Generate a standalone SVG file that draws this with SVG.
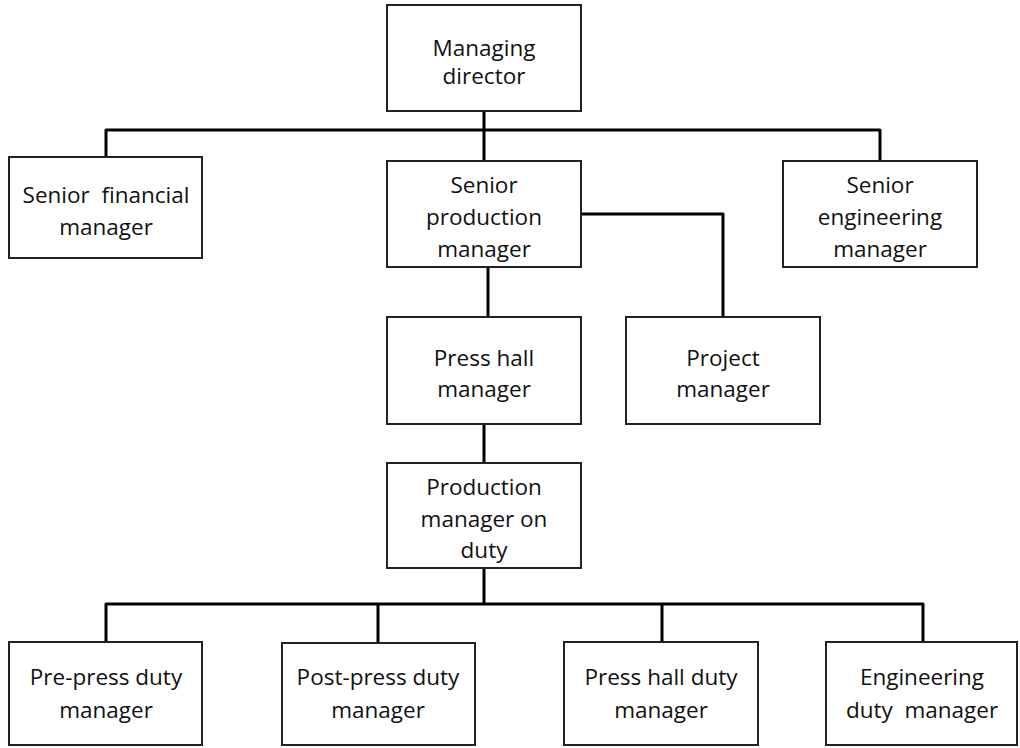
<svg xmlns="http://www.w3.org/2000/svg" width="1020" height="748" viewBox="0 0 1020 748">
<style>
.box{fill:#fff;stroke:#222;stroke-width:2}
.t{font-family:"Open Sans",Lato,sans-serif;font-size:22.5px;fill:#111;text-anchor:middle}
.c{fill:none;stroke:#000;stroke-width:3;stroke-linejoin:round}
</style>
<rect width="1020" height="748" fill="#fff"/>
<g id="connectors">
<path class="c" d="M484 111V161M106 157V130H880V161"/>
<path class="c" d="M581 214H723V317M488 267V317M484 424V463"/>
<path class="c" d="M484 568V604M106 642V604H923V642M378 604V643M662 604V642"/>
</g>
<g id="managing-director"><rect class="box" x="387" y="5" width="194" height="106"/><text class="t" x="484" y="56">Managing</text><text class="t" x="484" y="84">director</text></g>
<g id="senior-financial"><rect class="box" x="9" y="157" width="193" height="101"/><text class="t" x="106" y="203" xml:space="preserve">Senior  financial</text><text class="t" x="106" y="235">manager</text></g>
<g id="senior-production"><rect class="box" x="387" y="161" width="194" height="106"/><text class="t" x="484" y="193">Senior</text><text class="t" x="484" y="225">production</text><text class="t" x="484" y="257">manager</text></g>
<g id="senior-engineering"><rect class="box" x="783" y="161" width="194" height="106"/><text class="t" x="880" y="193">Senior</text><text class="t" x="880" y="225">engineering</text><text class="t" x="880" y="257">manager</text></g>
<g id="press-hall"><rect class="box" x="387" y="317" width="194" height="107"/><text class="t" x="484" y="366">Press hall</text><text class="t" x="484" y="397">manager</text></g>
<g id="project"><rect class="box" x="626" y="317" width="194" height="107"/><text class="t" x="723" y="366">Project</text><text class="t" x="723" y="397">manager</text></g>
<g id="production-on-duty"><rect class="box" x="387" y="463" width="194" height="105"/><text class="t" x="484" y="495">Production</text><text class="t" x="484" y="527">manager on</text><text class="t" x="484" y="558">duty</text></g>
<g id="pre-press"><rect class="box" x="9" y="642" width="193" height="103"/><text class="t" x="106" y="685">Pre-press duty</text><text class="t" x="106" y="718">manager</text></g>
<g id="post-press"><rect class="box" x="282" y="643" width="193" height="102"/><text class="t" x="378" y="685">Post-press duty</text><text class="t" x="378" y="718">manager</text></g>
<g id="press-hall-duty"><rect class="box" x="564" y="642" width="194" height="103"/><text class="t" x="661" y="685">Press hall duty</text><text class="t" x="661" y="718">manager</text></g>
<g id="engineering-duty"><rect class="box" x="826" y="642" width="191" height="103"/><text class="t" x="922" y="685">Engineering</text><text class="t" x="922" y="718" xml:space="preserve">duty  manager</text></g>
</svg>
